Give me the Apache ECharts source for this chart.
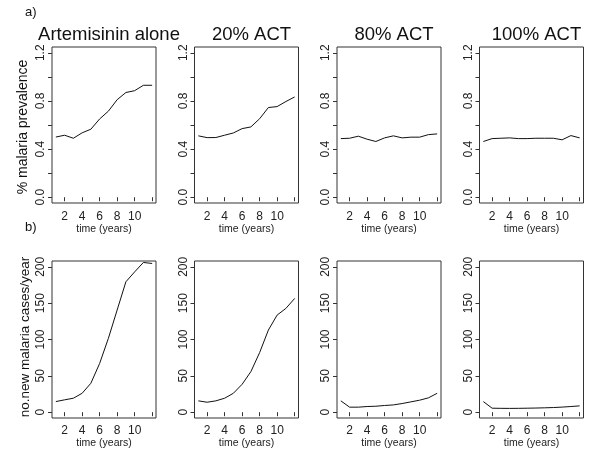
<!DOCTYPE html>
<html>
<head>
<meta charset="utf-8">
<script src="https://cdn.jsdelivr.net/npm/echarts@6/dist/echarts.min.js"></script>
<style>html,body{margin:0;padding:0;background:#fff}#c{width:600px;height:460px}</style>
</head>
<body>
<div id="c"></div>
<script>
const years = [1,2,3,4,5,6,7,8,9,10,11,12];
const panelTitles = ['Artemisinin alone', '20% ACT', '80% ACT', '100% ACT'];

const prevArtemisinin = [0.50, 0.515, 0.49, 0.535, 0.565, 0.65, 0.715, 0.81, 0.87, 0.885, 0.93, 0.93];
const prevACT20 = [0.51, 0.495, 0.496, 0.515, 0.534, 0.57, 0.584, 0.652, 0.745, 0.753, 0.795, 0.833];
const prevACT80 = [0.487, 0.49, 0.507, 0.482, 0.463, 0.493, 0.51, 0.493, 0.499, 0.499, 0.52, 0.526];
const prevACT100 = [0.463, 0.487, 0.49, 0.493, 0.487, 0.487, 0.49, 0.49, 0.49, 0.477, 0.512, 0.493];

const casesArtemisinin = [14.6, 17, 19.2, 26, 39.8, 67, 101.6, 140.5, 179.4, 193, 206, 204.6];
const casesACT20 = [15.6, 13.7, 15.6, 19.2, 26, 38.4, 55.8, 82, 113, 133.6, 142.8, 156.5];
const casesACT80 = [15.6, 6.9, 6.9, 7.8, 8.2, 9.2, 10, 11.9, 14.2, 16.5, 19.7, 26];
const casesACT100 = [14.6, 5.5, 5.3, 5.2, 5.3, 5.5, 5.7, 6, 6.4, 7, 7.8, 8.7];

const xTicks = [2,4,6,8,10,12];
const xTickLabels = [2,4,6,8,10];
const prevTicks = [0,0.2,0.4,0.6,0.8,1.0,1.2];
const prevTickLabels = [0,0.4,0.8,1.2];
const caseTicks = [0,50,100,150,200];

const prevSeries = [prevArtemisinin, prevACT20, prevACT80, prevACT100];
const caseSeries = [casesArtemisinin, casesACT20, casesACT80, casesACT100];

const FONT = 'Liberation Sans, Arial, Helvetica, sans-serif';
const INK = '#222';
const lefts = [52, 194.5, 337, 479.5];
const W = 104;
const rows = [{top: 47, height: 156}, {top: 261, height: 157}];

const grid = [], xAxis = [], yAxis = [], series = [], title = [];
for (let r = 0; r < 2; r++) {
  for (let p = 0; p < 4; p++) {
    const gi = r * 4 + p;
    grid.push({left: lefts[p], top: rows[r].top, width: W, height: rows[r].height,
      show: true, borderColor: '#333', borderWidth: 1, backgroundColor: 'transparent', containLabel: false});
    xAxis.push({type: 'value', gridIndex: gi, min: 0.56, max: 12.44,
      axisLine: {show: false}, splitLine: {show: false},
      axisTick: {show: true, length: 4, lineStyle: {color: '#333'}, customValues: xTicks},
      axisLabel: {show: true, customValues: xTickLabels, margin: r === 0 ? 8 : 7,
        fontSize: 12, color: INK, fontFamily: FONT},
      name: 'time (years)', nameLocation: 'middle', nameGap: r === 0 ? 21 : 19,
      nameTextStyle: {fontSize: 10.5, color: INK, fontFamily: FONT}});
    if (r === 0) {
      yAxis.push({type: 'value', gridIndex: gi, min: -0.048, max: 1.248,
        axisLine: {show: false}, splitLine: {show: false},
        axisTick: {show: true, length: 4, lineStyle: {color: '#333'}, customValues: prevTicks},
        axisLabel: {show: true, customValues: prevTickLabels, rotate: 90, margin: 5,
          fontSize: 12, color: INK, fontFamily: FONT, formatter: v => v.toFixed(1)}});
    } else {
      yAxis.push({type: 'value', gridIndex: gi, min: -8, max: 208,
        axisLine: {show: false}, splitLine: {show: false},
        axisTick: {show: true, length: 4, lineStyle: {color: '#333'}, customValues: caseTicks},
        axisLabel: {show: true, customValues: caseTicks, rotate: 90, margin: 5,
          fontSize: 12, color: INK, fontFamily: FONT}});
    }
    const vals = r === 0 ? prevSeries[p] : caseSeries[p];
    series.push({type: 'line', xAxisIndex: gi, yAxisIndex: gi,
      data: years.map((y, i) => [y, vals[i]]),
      showSymbol: false, symbol: 'none', silent: true, animation: false, clip: false,
      lineStyle: {color: '#111', width: 1}});
  }
}
for (let p = 0; p < 4; p++) {
  title.push({text: panelTitles[p], left: lefts[p] + W / 2, top: 20, textAlign: 'center',
    textStyle: {fontSize: 18.5, fontWeight: 'normal', color: '#111', fontFamily: FONT}});
}

const chart = echarts.init(document.getElementById('c'), null, {renderer: 'canvas'});
chart.setOption({
  animation: false,
  backgroundColor: '#fff',
  title: title,
  grid: grid, xAxis: xAxis, yAxis: yAxis, series: series,
  graphic: [
    {type: 'text', left: 25, top: 6, style: {text: 'a)', fontSize: 13, fill: '#111', fontFamily: FONT}},
    {type: 'text', left: 25, top: 221, style: {text: 'b)', fontSize: 13, fill: '#111', fontFamily: FONT}},
    {type: 'text', x: 23, y: 127, rotation: Math.PI / 2,
      style: {text: '% malaria prevalence', fontSize: 14, fill: '#111', fontFamily: FONT, align: 'center', verticalAlign: 'middle'}},
    {type: 'text', x: 25, y: 337, rotation: Math.PI / 2,
      style: {text: 'no.new malaria cases/year', fontSize: 13.5, fill: '#111', fontFamily: FONT, align: 'center', verticalAlign: 'middle'}}
  ]
});
</script>
</body>
</html>
